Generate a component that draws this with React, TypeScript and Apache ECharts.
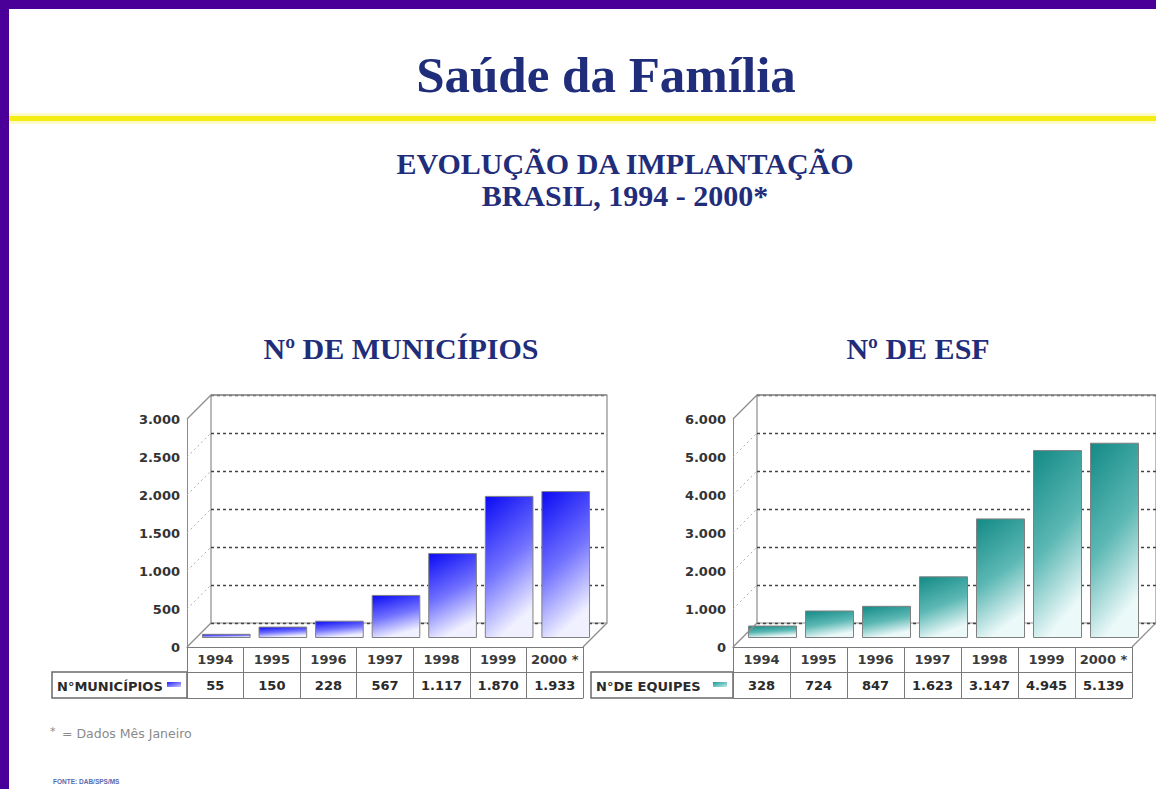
import React, { useEffect, useRef } from "react";
import * as echarts from "echarts";

const years = ["1994", "1995", "1996", "1997", "1998", "1999", "2000 *"];
const municipios = [55, 150, 228, 567, 1117, 1870, 1933];
const equipes = [328, 724, 847, 1623, 3147, 4945, 5139];
const ticksMunicipios = [0, 500, 1000, 1500, 2000, 2500, 3000];
const ticksEquipes = [0, 1000, 2000, 3000, 4000, 5000, 6000];

const fmt = (n: number) => String(n).replace(/\B(?=(\d{3})+(?!\d))/g, ".");

const D = 24; // depth of the 3D box
const M = 11; // depth of the bars
const TOP = 419;
const H = 228;
const NAVY = "#1f2d7b";
const SANS = "DejaVu Sans";
const SERIF = "Liberation Serif";

type Panel = {
  frontLeft: number;
  width: number;
  values: number[];
  ticks: number[];
  top: string;
  mid: string;
  bottom: string;
};

function buildPanel(p: number, cfg: Panel) {
  const max = cfg.ticks[cfg.ticks.length - 1];
  const interval = cfg.ticks[1] - cfg.ticks[0];
  const gb = p * 3;
  const grids = [
    {
      left: cfg.frontLeft + D,
      top: TOP - D,
      width: cfg.width,
      height: H,
      show: true,
      borderColor: "#8c8c8c",
      borderWidth: 1.2,
      backgroundColor: "transparent",
    },
    { left: cfg.frontLeft + M, top: TOP - M + 2, width: cfg.width, height: H },
    { left: cfg.frontLeft, top: TOP, width: cfg.width, height: H },
  ];
  const tableLine = { lineStyle: { color: "#7a7a7a", width: 1 } };
  const xAxes = [
    { type: "category", gridIndex: gb, data: years, show: false },
    { type: "category", gridIndex: gb + 1, data: years, show: false },
    {
      type: "category",
      gridIndex: gb + 2,
      data: years,
      position: "bottom",
      axisLine: { show: true, ...tableLine },
      axisTick: { show: true, length: 25, interval: 0, alignWithLabel: false, ...tableLine },
      axisLabel: {
        interval: 0,
        margin: 6,
        fontFamily: SANS,
        fontWeight: "bold",
        fontSize: 13,
        color: "#3a3a3a",
      },
    },
    {
      type: "category",
      gridIndex: gb + 2,
      data: cfg.values.map(fmt),
      position: "bottom",
      offset: 25,
      axisLine: { show: true, ...tableLine },
      axisTick: { show: true, length: 26, interval: 0, alignWithLabel: false, ...tableLine },
      axisLabel: {
        interval: 0,
        margin: 7,
        fontFamily: SANS,
        fontWeight: "bold",
        fontSize: 13,
        color: "#2a2a2a",
      },
    },
    {
      type: "category",
      gridIndex: gb + 2,
      data: years,
      position: "bottom",
      offset: 51,
      axisLine: { show: true, ...tableLine },
      axisTick: { show: false },
      axisLabel: { show: false },
    },
  ];
  const yAxes = [
    {
      type: "value",
      gridIndex: gb,
      min: 0,
      max,
      interval,
      axisLine: { show: false },
      axisTick: { show: false },
      axisLabel: { show: false },
      splitLine: { show: true, lineStyle: { color: "#444", type: [3, 3], width: 1.3 } },
    },
    { type: "value", gridIndex: gb + 1, min: 0, max, interval, show: false, splitLine: { show: false } },
    {
      type: "value",
      gridIndex: gb + 2,
      min: 0,
      max,
      interval,
      axisLine: { show: true, lineStyle: { color: "#8c8c8c" } },
      axisTick: { show: false },
      splitLine: { show: false },
      axisLabel: {
        margin: 7,
        fontFamily: SANS,
        fontWeight: "bold",
        fontSize: 13,
        color: "#333",
        formatter: (v: number) => fmt(v),
      },
    },
  ];
  const xb = p * 5;
  const series = [
    {
      type: "bar",
      xAxisIndex: xb + 1,
      yAxisIndex: gb + 1,
      data: cfg.values,
      barCategoryGap: "14%",
      itemStyle: {
        color: new echarts.graphic.LinearGradient(0, 0, 0.3, 1, [
          { offset: 0, color: cfg.top },
          { offset: 0.55, color: cfg.mid },
          { offset: 1, color: cfg.bottom },
        ]),
        borderColor: "#808080",
        borderWidth: 1,
      },
      z: 3,
    },
    {
      type: "custom",
      xAxisIndex: xb + 2,
      yAxisIndex: gb + 2,
      data: cfg.ticks.map((t) => [0, t]),
      encode: { x: 0, y: 1 },
      z: 4,
      renderItem: (params: any, api: any) => {
        const v = api.value(1);
        const cs = params.coordSys;
        const y = api.coord([0, v])[1];
        const x0 = cs.x;
        const edge = v === 0 || v === max;
        const solid = { stroke: "#8c8c8c", lineWidth: 1.2 };
        const children: any[] = [
          {
            type: "line",
            shape: { x1: x0, y1: y, x2: x0 + D, y2: y - D },
            style: edge ? solid : { stroke: "#b0b0b0", lineWidth: 1, lineDash: [2, 3] },
          },
        ];
        if (v === 0) {
          children.push({
            type: "line",
            shape: { x1: x0 + cs.width, y1: y, x2: x0 + cs.width + D, y2: y - D },
            style: solid,
          });
        }
        if (v === max) {
          children.push({
            type: "line",
            shape: { x1: x0 + D, y1: y - D, x2: x0 + cs.width + D, y2: y - D },
            style: { stroke: "#8c8c8c", lineWidth: 1.6 },
          });
        }
        return { type: "group", children };
      },
    },
  ];
  return { grids, xAxes, yAxes, series };
}

const panels: Panel[] = [
  {
    frontLeft: 187,
    width: 396,
    values: municipios,
    ticks: ticksMunicipios,
    top: "#0a0af5",
    mid: "#7272ff",
    bottom: "#f0f0ff",
  },
  {
    frontLeft: 733,
    width: 399,
    values: equipes,
    ticks: ticksEquipes,
    top: "#138a86",
    mid: "#5cb8b4",
    bottom: "#ecf9f9",
  },
];

function labelCell(x: number, w: number, text: string, c1: string, c2: string) {
  return [
    {
      type: "rect",
      shape: { x, y: 672, width: w, height: 26 },
      style: { fill: "#fff", stroke: "#6a6a6a", lineWidth: 1.5 },
    },
    {
      type: "text",
      x: x + 5,
      y: 686,
      style: {
        text,
        fontFamily: SANS,
        fontWeight: "bold",
        fontSize: 13,
        fill: "#2a2a2a",
        verticalAlign: "middle",
        align: "left",
      },
    },
    {
      type: "rect",
      shape: { x: x + w - 20, y: 682, width: 14, height: 5 },
      style: {
        fill: new echarts.graphic.LinearGradient(0, 0, 1, 1, [
          { offset: 0, color: c1 },
          { offset: 1, color: c2 },
        ]),
      },
    },
  ];
}

function txt(x: number, y: number, text: string, size: number, extra: any = {}) {
  return {
    type: "text",
    x,
    y,
    style: {
      text,
      fontFamily: SERIF,
      fontWeight: "bold",
      fontSize: size,
      fill: NAVY,
      align: "center",
      verticalAlign: "middle",
      ...extra,
    },
  };
}

export default function App() {
  const ref = useRef<HTMLDivElement>(null);
  useEffect(() => {
    if (!ref.current) return;
    const chart = echarts.init(ref.current, null, { renderer: "svg" });
    const built = panels.map((cfg, i) => buildPanel(i, cfg));
    const option: any = {
      animation: false,
      backgroundColor: "#ffffff",
      grid: built.flatMap((b) => b.grids),
      xAxis: built.flatMap((b) => b.xAxes),
      yAxis: built.flatMap((b) => b.yAxes),
      series: built.flatMap((b) => b.series),
      graphic: [
        { type: "rect", shape: { x: 0, y: 0, width: 1156, height: 9 }, style: { fill: "#4a0098" } },
        { type: "rect", shape: { x: 0, y: 0, width: 9, height: 789 }, style: { fill: "#4a0098" } },
        { type: "rect", shape: { x: 9, y: 113, width: 1147, height: 11 }, style: { fill: "#fdf9c8" } },
        { type: "rect", shape: { x: 9, y: 116, width: 1147, height: 5 }, style: { fill: "#f5ec12" } },
        txt(606, 75, "Saúde da Família", 51),
        txt(625, 163, "EVOLUÇÃO DA IMPLANTAÇÃO", 30),
        txt(625, 195, "BRASIL, 1994 - 2000*", 30),
        txt(401, 348, "Nº DE MUNICÍPIOS", 30),
        txt(918, 348, "Nº DE ESF", 30),
        ...labelCell(52, 135, "N°MUNICÍPIOS", "#2020ff", "#c8c8ff"),
        ...labelCell(591, 142, "N°DE EQUIPES", "#1a9a94", "#c0ecea"),
        {
          type: "text",
          x: 50,
          y: 731,
          style: {
            text: "*",
            fontFamily: SANS,
            fontSize: 11,
            fill: "#8a8a8a",
            align: "left",
            verticalAlign: "middle",
          },
        },
        {
          type: "text",
          x: 62,
          y: 733,
          style: {
            text: "= Dados Mês Janeiro",
            fontFamily: SANS,
            fontSize: 12.5,
            fill: "#8a8a8a",
            align: "left",
            verticalAlign: "middle",
          },
        },
        {
          type: "text",
          x: 53,
          y: 781,
          style: {
            text: "FONTE: DAB/SPS/MS",
            fontFamily: "Liberation Sans",
            fontSize: 6.5,
            fontWeight: "bold",
            fill: "#5a6ab0",
            align: "left",
            verticalAlign: "middle",
          },
        },
      ],
    };
    chart.setOption(option);
    return () => chart.dispose();
  }, []);
  return (
    <div
      ref={ref}
      style={{ position: "absolute", left: 0, top: 0, width: 1156, height: 789, background: "#fff" }}
    />
  );
}
